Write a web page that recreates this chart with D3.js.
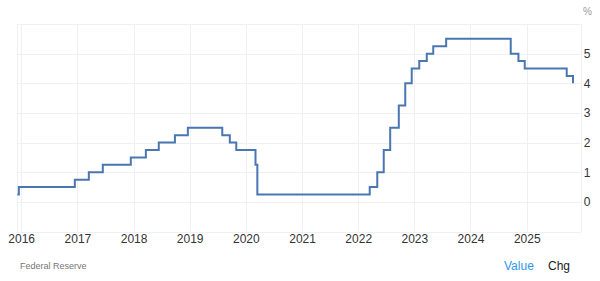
<!DOCTYPE html>
<html>
<head>
<meta charset="utf-8">
<script src="https://cdn.jsdelivr.net/npm/d3@7"></script>
<style>
  body { margin: 0; background: #fff; }
  svg { display: block; font-family: "Liberation Sans", Arial, sans-serif; }
  .grid line { stroke: #eef0f4; stroke-width: 1; }
  .axis text { fill: #333; font-size: 12px; }
</style>
</head>
<body>
<div class="chart"></div>
<script>
// Fed funds rate (upper bound), step changes
var rateDates = [
  "2015-12-07", "2015-12-17", "2016-12-15", "2017-03-16", "2017-06-15",
  "2017-12-14", "2018-03-22", "2018-06-14", "2018-09-27", "2018-12-20",
  "2019-08-01", "2019-09-19", "2019-10-31", "2020-03-04", "2020-03-16",
  "2022-03-17", "2022-05-05", "2022-06-16", "2022-07-28", "2022-09-22",
  "2022-11-03", "2022-12-15", "2023-02-02", "2023-03-23", "2023-05-04",
  "2023-07-27", "2024-09-19", "2024-11-08", "2024-12-19", "2025-09-18",
  "2025-10-29"
];
var rateValues = [
  0.25, 0.50, 0.75, 1.00, 1.25,
  1.50, 1.75, 2.00, 2.25, 2.50,
  2.25, 2.00, 1.75, 1.25, 0.25,
  0.50, 1.00, 1.75, 2.50, 3.25,
  4.00, 4.50, 4.75, 5.00, 5.25,
  5.50, 5.00, 4.75, 4.50, 4.25,
  4.00
];
var yearTicks = [2016, 2017, 2018, 2019, 2020, 2021, 2022, 2023, 2024, 2025];
var yTicks = [0, 1, 2, 3, 4, 5];
var yGrid = [-1, 0, 1, 2, 3, 4, 5, 6];

var width = 600, height = 281;
var plot = { left: 16.7, right: 580.7, top: 24, bottom: 231.5 };

var parse = d3.timeParse("%Y-%m-%d");
var data = rateDates.map(function (d, i) {
  return { date: parse(d), value: rateValues[i] };
});

var svg = d3.select(".chart").append("svg")
  .attr("width", width)
  .attr("height", height);

var xScale = d3.scaleTime()
  .domain([parse("2015-12-03"), parse("2025-12-18")])
  .range([plot.left, plot.right]);
var yScale = d3.scaleLinear()
  .domain([-1, 6])
  .range([plot.bottom, plot.top]);

// horizontal gridlines
svg.append("g").attr("class", "grid")
  .selectAll("line").data(yGrid).enter().append("line")
  .attr("x1", plot.left).attr("x2", plot.right)
  .attr("y1", function (d) { return Math.round(yScale(d)) + 0.5; })
  .attr("y2", function (d) { return Math.round(yScale(d)) + 0.5; });

// vertical gridlines at years, plus the two borders
var vx = yearTicks.map(function (y) { return xScale(new Date(y, 0, 1)); });
vx.push(plot.left, plot.right);
svg.append("g").attr("class", "grid")
  .selectAll("line").data(vx).enter().append("line")
  .attr("x1", function (d) { return Math.round(d) + 0.5; })
  .attr("x2", function (d) { return Math.round(d) + 0.5; })
  .attr("y1", plot.top).attr("y2", plot.bottom);

// x axis labels
var xAxis = d3.axisBottom(xScale)
  .tickValues(yearTicks.map(function (y) { return new Date(y, 0, 1); }))
  .tickFormat(d3.timeFormat("%Y"))
  .tickSize(0).tickPadding(3);
svg.append("g").attr("class", "axis")
  .attr("transform", "translate(0," + plot.bottom + ")")
  .call(xAxis)
  .call(function (g) { g.select(".domain").remove(); });

// y axis labels on the right
var yAxis = d3.axisRight(yScale)
  .tickValues(yTicks)
  .tickFormat(d3.format("d"))
  .tickSize(0).tickPadding(3);
svg.append("g").attr("class", "axis")
  .attr("transform", "translate(" + plot.right + ",0)")
  .call(yAxis)
  .call(function (g) { g.select(".domain").remove(); });

svg.append("text")
  .attr("x", 583).attr("y", 15)
  .attr("font-size", "10px").attr("fill", "#999")
  .text("%");

// the rate line
var lineGen = d3.line()
  .x(function (d) { return xScale(d.date); })
  .y(function (d) { return yScale(d.value); })
  .curve(d3.curveStepAfter);

svg.append("path")
  .attr("d", lineGen(data))
  .attr("fill", "none")
  .attr("stroke", "#4a76b1")
  .attr("stroke-width", 2);

// footer
svg.append("text")
  .attr("x", 20).attr("y", 269)
  .attr("font-size", "9px").attr("fill", "#777")
  .text("Federal Reserve");

svg.append("text")
  .attr("x", 504).attr("y", 270)
  .attr("font-size", "12px").attr("fill", "#2e96e8")
  .text("Value");

svg.append("text")
  .attr("x", 548).attr("y", 270)
  .attr("font-size", "12px").attr("fill", "#222")
  .text("Chg");
</script>
</body>
</html>
